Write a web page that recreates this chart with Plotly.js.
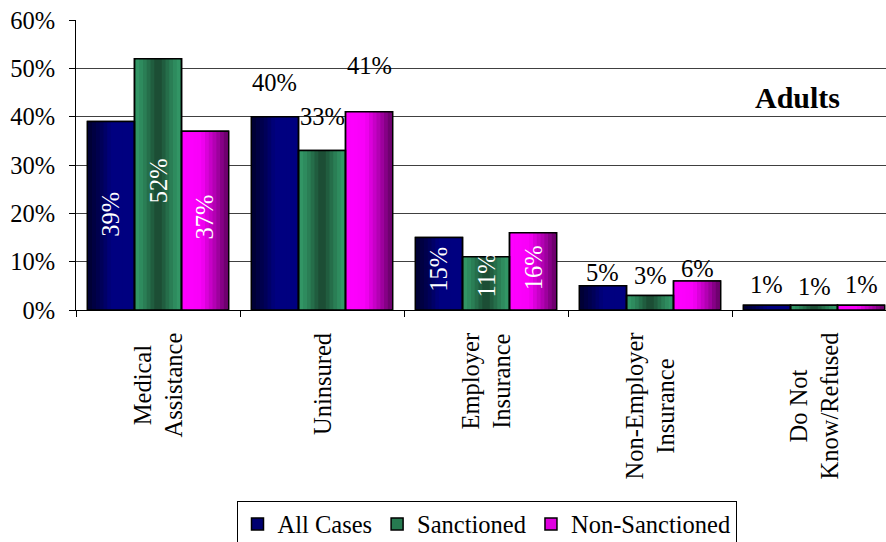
<!DOCTYPE html>
<html>
<head>
<meta charset="utf-8">
<script src="https://cdn.plot.ly/plotly-3.0.1.min.js"></script>
<style>
  html, body { margin: 0; padding: 0; background: #fff; }
  #chart { width: 886px; height: 542px; }
</style>
</head>
<body>
<div id="chart"></div>
<script>
// Health coverage of adult cases, percent of each group
const categories = ['Medical Assistance', 'Uninsured', 'Employer Insurance', 'Non-Employer Insurance', 'Do Not Know/Refused'];
const categoryLabels = ['Medical<br>Assistance', 'Uninsured', 'Employer<br>Insurance', 'Non-Employer<br>Insurance', 'Do Not<br>Know/Refused'];
const seriesNames = ['All Cases', 'Sanctioned', 'Non-Sanctioned'];
const allCases = [39, 40, 15, 5, 1];
const sanctioned = [52, 33, 11, 3, 1];
const nonSanctioned = [37, 41, 16, 6, 1];
const panelTitle = 'Adults';

// presentation
const FONT = 'Liberation Serif';
const FS = 24.5;
const seriesColors = ['#000070', '#267a50', '#e000e0'];
// horizontal shading of each series, left to right: [position, colour]
const seriesShades = [
  [[0, '#000030'], [0.3, '#00005a'], [0.5, '#000080'], [1, '#000080']],
  [[0, '#349a68'], [0.18, '#2c8459'], [0.38, '#205c3e'], [0.5, '#1a4630'], [0.62, '#205c3e'], [0.82, '#2c8459'], [1, '#349a68']],
  [[0, '#ff00ff'], [0.42, '#f800f8'], [0.72, '#b000b0'], [1, '#640064']]
];
const SLICES = 12;
const labelPlacement = ['inside', 'above', 'inside', 'above', 'above'];
const labelLift = [[2, 3, 3], [34, 34, 46], [5, 8, 3], [13, 20, 13], [21, 19, 21]];

const W = 886, H = 542;
const margin = { l: 76, r: 0, t: 20, b: 232, autoexpand: false };
const xRange = [-0.5, 4.439];
const bargap = 0.14;
const plotW = W - margin.l - margin.r;
const plotH = H - margin.t - margin.b;
const pxPerCat = plotW / (xRange[1] - xRange[0]);
const nSeries = seriesNames.length;
const barW = (1 - bargap) / nSeries;          // bar width, category units
const barPx = pxPerCat * barW;

const seriesValues = [allCases, sanctioned, nonSanctioned];

function hexToRgb(h) {
  const n = parseInt(h.slice(1), 16);
  return [(n >> 16) & 255, (n >> 8) & 255, n & 255];
}
function shadeAt(stops, t) {
  for (let i = 1; i < stops.length; i++) {
    if (t <= stops[i][0]) {
      const [t0, c0] = stops[i - 1], [t1, c1] = stops[i];
      const f = (t - t0) / (t1 - t0);
      const a = hexToRgb(c0), b = hexToRgb(c1);
      return 'rgb(' + a.map((v, j) => Math.round(v + (b[j] - v) * f)).join(',') + ')';
    }
  }
  return stops[stops.length - 1][1];
}

const traces = [];

// base bars: solid fill, outline, legend entry
seriesValues.forEach((vals, s) => {
  traces.push({
    type: 'bar', name: seriesNames[s],
    x: categories, y: vals,
    offset: (s - nSeries / 2) * barW, width: barW,
    marker: { color: seriesColors[s], line: { color: '#000', width: 1.5 } },
    textposition: 'none', hoverinfo: 'skip'
  });
});

// shading: narrow vertical bands across each bar
seriesValues.forEach((vals, s) => {
  const inset = 1 / pxPerCat;
  const inner = barW - 2 * inset;
  for (let k = 0; k < SLICES; k++) {
    const w = inner / SLICES;
    traces.push({
      type: 'bar', showlegend: false,
      x: categories, y: vals,
      offset: (s - nSeries / 2) * barW + inset + k * w,
      width: k < SLICES - 1 ? w * 1.15 : w,
      marker: { color: shadeAt(seriesShades[s], (k + 0.5) / SLICES), line: { width: 0 } },
      textposition: 'none', hoverinfo: 'skip'
    });
  }
});

// outlines on top of the shading
seriesValues.forEach((vals, s) => {
  traces.push({
    type: 'bar', showlegend: false,
    x: categories, y: vals,
    offset: (s - nSeries / 2) * barW, width: barW,
    marker: { color: 'rgba(0,0,0,0)', line: { color: '#000', width: 1.5 } },
    textposition: 'none', hoverinfo: 'skip'
  });
});

const annotations = [];

// value labels
seriesValues.forEach((vals, s) => {
  vals.forEach((v, c) => {
    const inside = labelPlacement[c] === 'inside';
    annotations.push({
      x: categories[c], xref: 'x',
      y: inside ? v / 2 : v, yref: 'y',
      xshift: (s - (nSeries - 1) / 2) * barPx,
      yshift: labelLift[c][s],
      text: v + '%',
      showarrow: false,
      textangle: inside ? -90 : 0,
      xanchor: 'center', yanchor: 'middle',
      font: { family: FONT, size: FS, color: inside ? '#fff' : '#000' }
    });
  });
});

// category names under the axis, rotated, centred line by line
categoryLabels.forEach((lab, c) => {
  annotations.push({
    x: categories[c], xref: 'x',
    y: -21 / plotH, yref: 'paper',
    text: lab,
    showarrow: false,
    textangle: -90,
    align: 'center',
    xanchor: 'center', yanchor: 'top',
    font: { family: FONT, size: FS, color: '#000' }
  });
});

// panel title inside the plot
annotations.push({
  x: (797 - margin.l) / plotW, xref: 'paper',
  y: (plotH + margin.t - 97) / plotH, yref: 'paper',
  text: '<b>' + panelTitle + '</b>',
  showarrow: false,
  xanchor: 'center', yanchor: 'middle',
  font: { family: FONT, size: 30, color: '#000' }
});

const layout = {
  width: W, height: H,
  margin: margin,
  paper_bgcolor: '#fff',
  plot_bgcolor: '#fff',
  font: { family: FONT, size: FS, color: '#000' },
  barmode: 'overlay',
  showlegend: true,
  xaxis: {
    type: 'category',
    range: xRange,
    showticklabels: false,
    ticks: 'outside',
    tickson: 'boundaries',
    ticklen: 6,
    tickwidth: 1,
    tickcolor: '#000',
    showline: true,
    linecolor: '#000',
    linewidth: 1,
    showgrid: false,
    zeroline: false,
    fixedrange: true
  },
  yaxis: {
    range: [0, 60],
    dtick: 10,
    tick0: 0,
    ticksuffix: '%',
    ticks: 'outside',
    ticklen: 6,
    tickwidth: 1,
    tickcolor: '#000',
    ticklabelstandoff: 9,
    tickfont: { family: FONT, size: FS, color: '#000' },
    showline: true,
    linecolor: '#000',
    linewidth: 1,
    showgrid: true,
    gridcolor: '#404040',
    gridwidth: 1,
    zeroline: false,
    fixedrange: true
  },
  legend: {
    orientation: 'h',
    x: (486.5 - margin.l) / plotW,
    xanchor: 'center',
    y: (plotH + margin.t - 500.5) / plotH,
    yanchor: 'top',
    bgcolor: '#fff',
    bordercolor: '#000',
    borderwidth: 1,
    font: { family: FONT, size: FS, color: '#000' },
    traceorder: 'normal',
    itemclick: false,
    itemdoubleclick: false
  },
  annotations: annotations
};

Plotly.newPlot('chart', traces, layout, { staticPlot: true, displayModeBar: false });
</script>
</body>
</html>
